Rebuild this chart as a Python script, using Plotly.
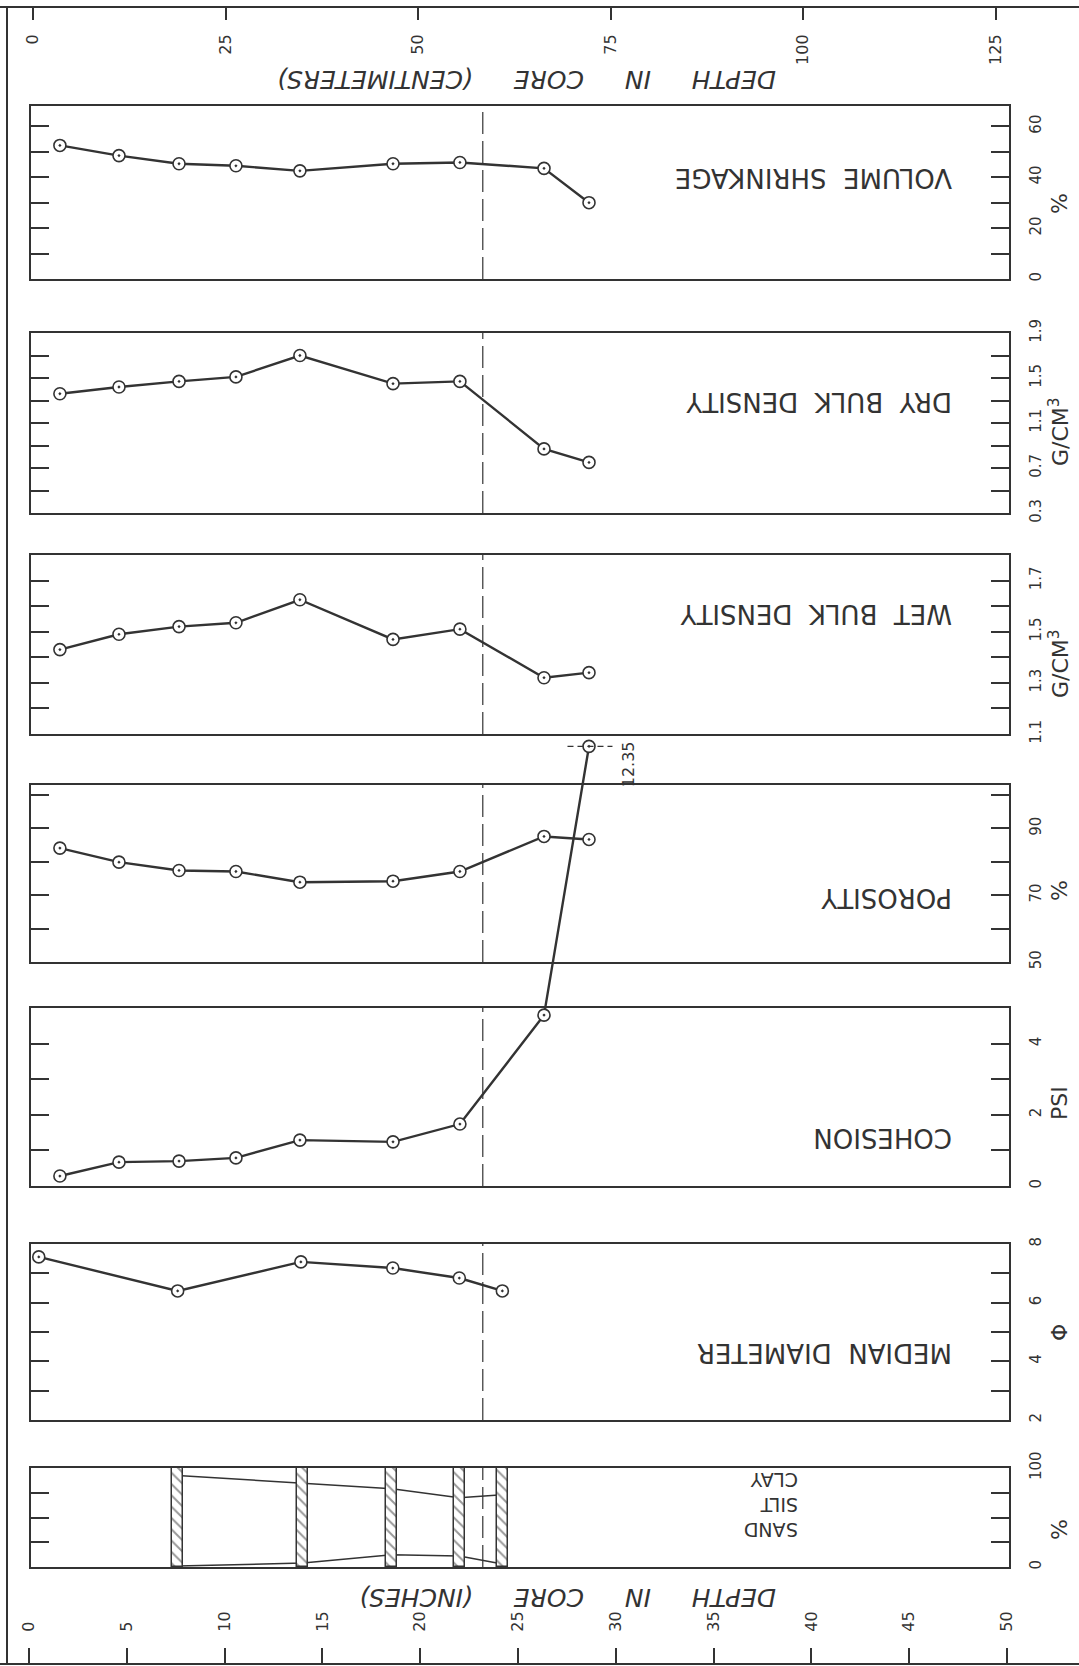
import plotly.graph_objects as go

W, H = 1079, 1666
INK = "#333333"
FONT = "DejaVu Sans"

# ---------------- data ----------------
# sample depths in the core (inches)
depth_in = [1.58, 4.60, 7.67, 10.58, 13.85, 18.61, 22.03, 26.33, 28.63]
volume_shrinkage = [52.5, 48.5, 45.3, 44.5, 42.5, 45.3, 45.8, 43.5, 30.0]
dry_bulk_density = [1.36, 1.42, 1.47, 1.51, 1.70, 1.45, 1.47, 0.87, 0.75]
wet_bulk_density = [1.43, 1.49, 1.52, 1.535, 1.625, 1.47, 1.51, 1.32, 1.34]
porosity = [84.1, 79.9, 77.4, 77.1, 73.9, 74.2, 77.1, 87.6, 86.7]
cohesion_psi = [0.28, 0.67, 0.70, 0.79, 1.29, 1.24, 1.74, 4.80, 12.35]

median_depth_in = [0.5, 7.6, 13.9, 18.6, 22.0, 24.2]
median_phi = [7.56, 6.40, 7.39, 7.18, 6.84, 6.40]

grain_depth_in = [7.6, 14.0, 18.55, 22.0, 24.2]
clay_boundary = [92.5, 84.5, 79.0, 70.0, 73.0]
sand_boundary = [1.0, 4.0, 12.5, 11.0, 3.0]

boundary_depth_in = 23.2

inch_ticks = list(range(0, 51, 5))
cm_ticks = list(range(0, 126, 25))

# ---------------- geometry helpers ----------------
IN0_PX, PX_PER_IN = 29.0, 19.56      # inch scale on the page
CM0_PX, PX_PER_CM = 33.0, 7.70       # centimetre scale on the page
PANEL_L, PANEL_R = 31.0, 1009.0


def px_x(p):
    return p / W


def px_y(p):
    return 1 - p / H


def dom(top, bottom):
    return [px_y(bottom), px_y(top)]


def ax(letter, i):
    return letter if i == 1 else f"{letter}{i}"


x_panel_range = [(PANEL_L - IN0_PX) / PX_PER_IN, (PANEL_R - IN0_PX) / PX_PER_IN]
x_inch_range = [(0 - IN0_PX) / PX_PER_IN, (W - IN0_PX) / PX_PER_IN]
x_cm_range = [(0 - CM0_PX) / PX_PER_CM, (W - CM0_PX) / PX_PER_CM]

panels = [
    dict(top=106, bottom=279, rng=[0, 68],
         labelled=[0, 20, 40, 60], minor=[10, 30, 50],
         title="VOLUME  SHRINKAGE", ty=178, unit="%", uy=204),
    dict(top=333, bottom=513, rng=[0.3, 1.9],
         labelled=[0.3, 0.7, 1.1, 1.5, 1.9], minor=[0.5, 0.9, 1.3, 1.7],
         title="DRY  BULK  DENSITY", ty=402, unit="G/CM<sup>3</sup>", uy=432),
    dict(top=555, bottom=734, rng=[1.1, 1.8],
         labelled=[1.1, 1.3, 1.5, 1.7], minor=[1.2, 1.4, 1.6],
         title="WET  BULK  DENSITY", ty=614, unit="G/CM<sup>3</sup>", uy=664),
    dict(top=785, bottom=962, rng=[50, 103],
         labelled=[50, 70, 90], minor=[60, 80, 100],
         title="POROSITY", ty=898, unit="%", uy=891),
    dict(top=1008, bottom=1186, rng=[0, 5],
         labelled=[0, 2, 4], minor=[1, 3],
         title="COHESION", ty=1138, unit="PSI", uy=1103),
    dict(top=1244, bottom=1420, rng=[2, 8],
         labelled=[2, 4, 6, 8], minor=[3, 5, 7],
         title="MEDIAN  DIAMETER", ty=1353, unit="Φ", uy=1333),
    dict(top=1468, bottom=1567, rng=[0, 100],
         labelled=[0, 100], minor=[25, 50, 75],
         title=None, ty=None, unit="%", uy=1530),
]

fig = go.Figure()
layout = dict(
    width=W, height=H, margin=dict(l=0, r=0, t=0, b=0, autoexpand=False),
    paper_bgcolor="white", plot_bgcolor="rgba(0,0,0,0)",
    showlegend=False, font=dict(family=FONT, color=INK),
)
annotations, shapes = [], []
tick_style = dict(ticks="inside", ticklen=18, tickwidth=1.7, tickcolor=INK)

for i, p in enumerate(panels, start=1):
    layout["xaxis" if i == 1 else f"xaxis{i}"] = dict(
        domain=[px_x(PANEL_L), px_x(PANEL_R)], range=x_panel_range, anchor=ax("y", i),
        showline=True, mirror=True, linecolor=INK, linewidth=1.7, automargin=False,
        ticks="", showticklabels=False, showgrid=False, zeroline=False, fixedrange=True,
    )
    layout["yaxis" if i == 1 else f"yaxis{i}"] = dict(
        domain=dom(p["top"], p["bottom"]), range=p["rng"], anchor=ax("x", i), side="right",
        showline=True, mirror="ticks", linecolor=INK, linewidth=1.7, automargin=False,
        tickvals=p["labelled"], ticktext=["%g" % v for v in p["labelled"]],
        tickangle=-90, ticklabelstandoff=12,
        tickfont=dict(family=FONT, size=15, color=INK),
        minor=dict(tickvals=p["minor"], showgrid=False, **tick_style),
        showgrid=False, zeroline=False, fixedrange=True, **tick_style,
    )
    # invisible anchor so every panel frame is drawn
    fig.add_trace(go.Scatter(x=[0], y=[p["rng"][0]], xaxis=ax("x", i), yaxis=ax("y", i),
                             mode="markers", marker=dict(opacity=0), hoverinfo="skip"))
    # dashed depth boundary through the panel
    shapes.append(dict(type="line", xref=ax("x", i), yref=ax("y", i) + " domain",
                       x0=boundary_depth_in, x1=boundary_depth_in, y0=0, y1=1,
                       line=dict(color=INK, width=1.2, dash="22px,7px")))
    if p["title"]:
        annotations.append(dict(text=p["title"], xref="paper", yref="paper",
                                x=px_x(954), y=px_y(p["ty"]), xanchor="right", yanchor="middle",
                                textangle=180, showarrow=False,
                                font=dict(family=FONT, size=26, color=INK)))
    annotations.append(dict(text=p["unit"], xref="paper", yref="paper",
                            x=px_x(1059), y=px_y(p["uy"]), xanchor="center", yanchor="middle",
                            textangle=-90, showarrow=False,
                            font=dict(family=FONT, size=22, color=INK)))

# cohesion runs off its own box: an extended, hidden scale carries the trace
coh_top_px = 740
layout["yaxis8"] = dict(domain=dom(coh_top_px, 1186), range=[0, (1186 - coh_top_px) / (178 / 5)],
                        anchor="x5", visible=False, fixedrange=True)
# hatched sample intervals sit above the grain-size boundary lines
layout["yaxis9"] = dict(overlaying="y7", range=[0, 100], anchor="x7", visible=False, fixedrange=True)
# hidden partner for the two page-wide depth scales
layout["yaxis10"] = dict(domain=[0, 1], range=[0, 1], anchor="x8", visible=False, fixedrange=True)

# depth scales: inches along the bottom edge, centimetres along the top edge
layout["xaxis8"] = dict(domain=[0, 1], range=x_inch_range, anchor="free", position=px_y(1664),
                        side="top", showline=True, linecolor=INK, linewidth=2, automargin=False,
                        ticks="outside", ticklen=15, tickwidth=1.7, tickcolor=INK,
                        tickvals=inch_ticks, ticktext=[str(v) for v in inch_ticks],
                        tickangle=-90, ticklabelstandoff=13,
                        tickfont=dict(family=FONT, size=16, color=INK),
                        showgrid=False, zeroline=False, fixedrange=True)
layout["xaxis9"] = dict(domain=[0, 1], range=x_cm_range, anchor="free", position=px_y(7),
                        side="bottom", showline=True, linecolor=INK, linewidth=2, automargin=False,
                        ticks="outside", ticklen=12, tickwidth=1.7, tickcolor=INK,
                        tickvals=cm_ticks, ticktext=[str(v) for v in cm_ticks],
                        tickangle=-90, ticklabelstandoff=8,
                        tickfont=dict(family=FONT, size=16, color=INK),
                        showgrid=False, zeroline=False, fixedrange=True)
for xa in ("x8", "x9"):
    fig.add_trace(go.Scatter(x=[0], y=[0], xaxis=xa, yaxis="y10", mode="markers",
                             marker=dict(opacity=0), hoverinfo="skip"))

line_style = dict(color=INK, width=2.4)
marker_style = dict(symbol="circle-dot", size=12, color="white", line=dict(color=INK, width=1.6))


def profile(x, y, xa, ya):
    fig.add_trace(go.Scatter(x=x, y=y, xaxis=xa, yaxis=ya, mode="lines+markers",
                             line=line_style, marker=marker_style, cliponaxis=False,
                             hoverinfo="skip"))


profile(depth_in, volume_shrinkage, "x", "y")
profile(depth_in, dry_bulk_density, "x2", "y2")
profile(depth_in, wet_bulk_density, "x3", "y3")
profile(depth_in, porosity, "x4", "y4")
profile(depth_in, cohesion_psi, "x5", "y8")
profile(median_depth_in, median_phi, "x6", "y6")

# off-scale cohesion value: dashed crosshair and its label
coh_last_x, coh_last_y = depth_in[-1], cohesion_psi[-1]
fig.add_trace(go.Scatter(x=[coh_last_x - 1.1, coh_last_x + 1.2], y=[coh_last_y, coh_last_y],
                         xaxis="x5", yaxis="y8", mode="lines", cliponaxis=False,
                         line=dict(color=INK, width=1.2, dash="6px,4px"), hoverinfo="skip"))
annotations.append(dict(text="%.2f" % coh_last_y, xref="x5", yref="y8",
                        x=coh_last_x + 2.0, y=coh_last_y - 0.5, textangle=-90,
                        showarrow=False, font=dict(family=FONT, size=16, color=INK)))

# sand / silt / clay boundaries and the hatched sample intervals
for b in (clay_boundary, sand_boundary):
    fig.add_trace(go.Scatter(x=grain_depth_in, y=b, xaxis="x7", yaxis="y7", mode="lines",
                             line=dict(color=INK, width=1.5), hoverinfo="skip"))
fig.add_trace(go.Bar(x=grain_depth_in, y=[100] * len(grain_depth_in), base=0, width=0.55,
                     xaxis="x7", yaxis="y9",
                     marker=dict(color="white", line=dict(color=INK, width=1.5),
                                 pattern=dict(shape="\\", size=8, solidity=0.25,
                                              fgcolor=INK, bgcolor="white")),
                     hoverinfo="skip"))
for name, yy in (("CLAY", 1493), ("SILT", 1518), ("SAND", 1543)):
    annotations.append(dict(text=name, xref="paper", yref="paper", x=px_x(800), y=px_y(yy),
                            textangle=180, showarrow=False,
                            font=dict(family=FONT, size=19, color=INK)))

# depth axis titles (upside down, italic)
GAP = " \u2003 "
for txt, yy in ((f"DEPTH{GAP}IN{GAP}CORE{GAP}(CENTIMETERS)", 79),
                (f"DEPTH{GAP}IN{GAP}CORE{GAP}(INCHES)", 1598)):
    annotations.append(dict(text=f"<i>{txt}</i>", xref="paper", yref="paper",
                            x=px_x(778), y=px_y(yy), xanchor="right", yanchor="middle",
                            textangle=180, showarrow=False,
                            font=dict(family=FONT, size=25, color=INK)))

# left edge of the outer frame
shapes.append(dict(type="line", xref="paper", yref="paper", x0=px_x(7), x1=px_x(7),
                   y0=px_y(7), y1=px_y(1664), line=dict(color=INK, width=2)))

layout["annotations"] = annotations
layout["shapes"] = shapes
layout["bargap"] = 0
fig.update_layout(**layout)

fig.write_html("out.html")
